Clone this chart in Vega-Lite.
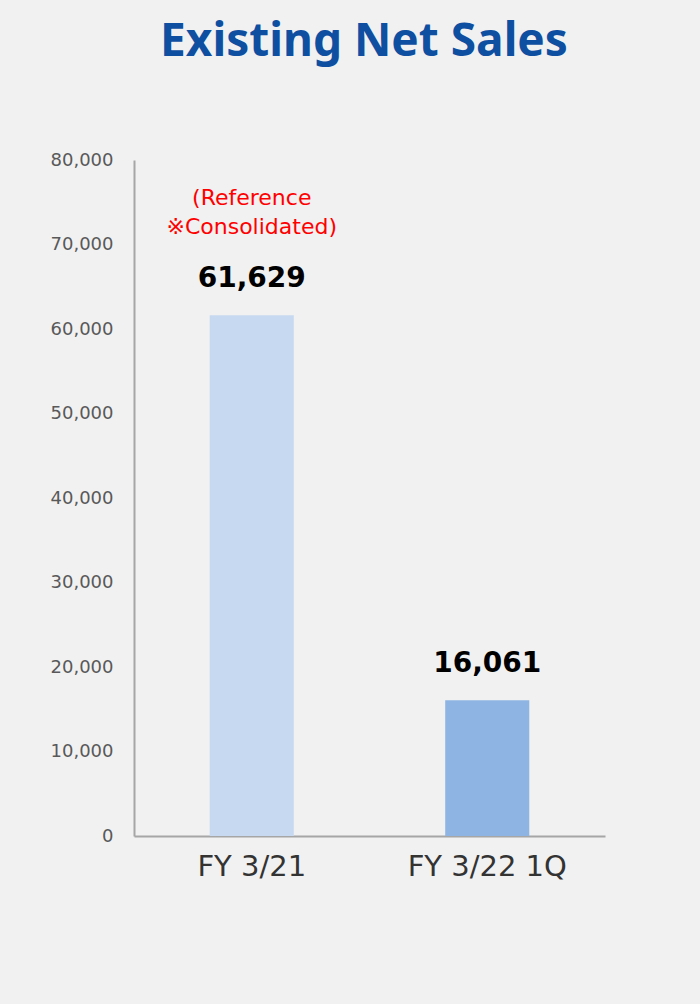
{
  "$schema": "https://vega.github.io/schema/vega-lite/v6.json",
  "width": 471,
  "height": 676,
  "autosize": {"type": "none"},
  "padding": {"left": 134, "top": 160, "right": 95, "bottom": 168},
  "background": "#f1f1f1",
  "title": {
    "text": "Existing Net Sales",
    "anchor": "middle",
    "frame": "group",
    "dx": -5.5,
    "font": "Noto Sans",
    "fontSize": 46,
    "fontWeight": "bold",
    "color": "#0e4fa1",
    "offset": 85
  },
  "data": {
    "values": [
      {"period": "FY 3/21", "sales": 61629, "note": "(Reference\n※Consolidated)"},
      {"period": "FY 3/22 1Q", "sales": 16061, "note": ""}
    ]
  },
  "encoding": {
    "x": {
      "field": "period",
      "type": "nominal",
      "sort": null,
      "scale": {"paddingInner": 0.643, "paddingOuter": 0.3215},
      "axis": {
        "title": null,
        "labelAngle": 0,
        "labelFont": "DejaVu Sans",
        "labelFontSize": 29,
        "labelColor": "#333333",
        "labelPadding": 16,
        "ticks": false,
        "domainColor": "#a6a6a6",
        "domainWidth": 2
      }
    },
    "y": {
      "field": "sales",
      "type": "quantitative",
      "scale": {"domain": [0, 80000], "nice": false},
      "axis": {
        "title": null,
        "values": [0, 10000, 20000, 30000, 40000, 50000, 60000, 70000, 80000],
        "format": ",.0f",
        "labelFont": "DejaVu Sans",
        "labelFontSize": 18,
        "labelColor": "#595959",
        "labelPadding": 21,
        "ticks": false,
        "grid": false,
        "domainColor": "#a6a6a6",
        "domainWidth": 2
      }
    }
  },
  "layer": [
    {
      "mark": {"type": "bar"},
      "encoding": {
        "color": {
          "field": "period",
          "type": "nominal",
          "sort": null,
          "scale": {"range": ["#c6d9f0", "#8eb4e3"]},
          "legend": null
        }
      }
    },
    {
      "mark": {
        "type": "text",
        "font": "DejaVu Sans",
        "fontSize": 28,
        "fontWeight": "bold",
        "color": "#000000",
        "baseline": "alphabetic",
        "dy": -28
      },
      "encoding": {
        "text": {"field": "sales", "type": "quantitative", "format": ",.0f"}
      }
    },
    {
      "transform": [{"filter": "datum.note != ''"}],
      "mark": {
        "type": "text",
        "font": "DejaVu Sans",
        "fontSize": 22,
        "color": "#ff0000",
        "baseline": "alphabetic",
        "lineBreak": "\n",
        "lineHeight": 29,
        "dy": -110
      },
      "encoding": {
        "text": {"field": "note", "type": "nominal"}
      }
    }
  ],
  "config": {"view": {"stroke": null}}
}
